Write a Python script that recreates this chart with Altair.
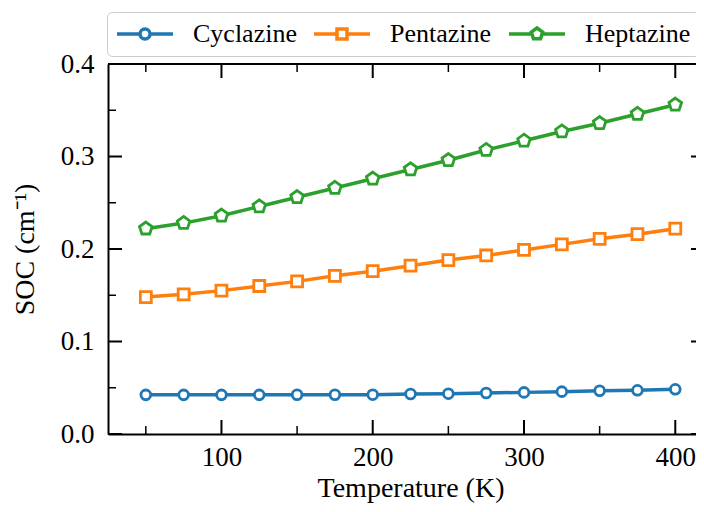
import altair as alt
import pandas as pd

# ---------------- data ----------------
temperatures = [50, 75, 100, 125, 150, 175, 200, 225, 250, 275, 300, 325, 350, 375, 400]
series_names = ["Cyclazine", "Pentazine", "Heptazine"]
cyclazine = [0.0423, 0.0423, 0.0423, 0.0423, 0.0424, 0.0424, 0.0425, 0.0432,
             0.0436, 0.0443, 0.0450, 0.0458, 0.0467, 0.0472, 0.0483]
pentazine = [0.148, 0.151, 0.155, 0.160, 0.165, 0.171, 0.176, 0.182,
             0.188, 0.193, 0.199, 0.205, 0.211, 0.216, 0.222]
heptazine = [0.222, 0.228, 0.236, 0.246, 0.256, 0.266, 0.276, 0.286,
             0.296, 0.307, 0.317, 0.327, 0.336, 0.346, 0.356]
x_major = [100, 200, 300, 400]
x_minor = [50, 150, 250, 350]
y_major = [0.0, 0.1, 0.2, 0.3, 0.4]
y_minor = [0.05, 0.15, 0.25, 0.35]

colors = ["#1f77b4", "#ff7f0e", "#2ca02c"]

rows = []
for name, vals in zip(series_names, [cyclazine, pentazine, heptazine]):
    for t, v in zip(temperatures, vals):
        rows.append({"T": t, "SOC": v, "series": name})
df = pd.DataFrame(rows)

# ---------------- styling ----------------
W, H = 588, 370
FONT = "Liberation Serif"
PENT = "M0,-1L0.951,-0.309L0.588,0.809L-0.588,0.809L-0.951,-0.309Z"
marker_shape = {"Cyclazine": "circle", "Pentazine": "square", "Heptazine": PENT}
marker_size = {"Cyclazine": 95, "Pentazine": 120, "Heptazine": 175}
legend_paths = [
    "M-5.6,0H-1M1,0H5.6M-1,0A1,1 0 1,0 1,0A1,1 0 1,0 -1,0Z",
    "M-5.6,0H-1M1,0H5.6M-1,-1H1V1H-1Z",
    "M-5.6,0H-1.12M1.12,0H5.6M0,-1.2L1.141,-0.371L0.705,0.971L-0.705,0.971L-1.141,-0.371Z",
]

xscale = alt.Scale(domain=[25, 413.7], nice=False, zero=False)
yscale = alt.Scale(domain=[0, 0.4], nice=False, zero=False)
cscale = alt.Scale(domain=series_names, range=colors)

x_enc = alt.X("T:Q", scale=xscale, axis=alt.Axis(
    values=x_major, format="d", title="Temperature (K)", ticks=False, grid=False,
    domainColor="black", domainWidth=2, labelFont=FONT, labelFontSize=27,
    labelColor="black", labelPadding=10, titleFont=FONT, titleFontSize=28,
    titleFontWeight="normal", titleColor="black", titlePadding=4, titleX=302.5))
y_enc = alt.Y("SOC:Q", scale=yscale, axis=alt.Axis(
    values=y_major, format=".1f", title="SOC (cm⁻¹)", ticks=False, grid=False,
    domainColor="black", domainWidth=2, labelFont=FONT, labelFontSize=27,
    labelColor="black", labelPadding=14, titleFont=FONT, titleFontSize=28,
    titleFontWeight="normal", titleColor="black", titlePadding=21))

base = alt.Chart(df)

series_layers = []
for name, col in zip(series_names, colors):
    sub = base.transform_filter(alt.datum.series == name)
    series_layers.append(sub.mark_line(color=col, strokeWidth=3.5).encode(x=x_enc, y=y_enc))
for name, col in zip(series_names, colors):
    sub = base.transform_filter(alt.datum.series == name)
    series_layers.append(sub.mark_point(
        shape=marker_shape[name], filled=False, fill="white", stroke=col, color=col,
        size=marker_size[name], strokeWidth=2.8, opacity=1).encode(x=x_enc, y=y_enc))

leg = alt.Legend(
    title=None, orient="none", legendX=-1, legendY=-52, direction="horizontal",
    labelFont=FONT, labelFontSize=26, labelColor="black", labelOffset=35,
    symbolOffset=16, symbolSize=100, symbolStrokeWidth=3.5, symbolFillColor="white",
    columnPadding=10, padding=9, cornerRadius=5, strokeColor="#cccccc",
    fillColor="white")

legend_layer = base.transform_filter("datum.SOC < -1").mark_point(
    filled=False, fill="white", size=100, strokeWidth=3.5, opacity=1).encode(
    x=x_enc, y=y_enc,
    color=alt.Color("series:N", scale=cscale, legend=leg),
    shape=alt.Shape("series:N", scale=alt.Scale(domain=series_names, range=legend_paths), legend=leg))

# tick marks (drawn inward)
xt_major = pd.DataFrame({"T": x_major})
xt_minor = pd.DataFrame({"T": x_minor})
yt_major = pd.DataFrame({"SOC": y_major})
yt_minor = pd.DataFrame({"SOC": y_minor})

tick_layers = [
    alt.Chart(xt_major).mark_rule(color="black", strokeWidth=2).encode(x=x_enc, y=alt.value(H), y2=alt.value(H - 14)),
    alt.Chart(xt_major).mark_rule(color="black", strokeWidth=2).encode(x=x_enc, y=alt.value(0), y2=alt.value(14)),
    alt.Chart(xt_minor).mark_rule(color="black", strokeWidth=1.5).encode(x=x_enc, y=alt.value(H), y2=alt.value(H - 8)),
    alt.Chart(xt_minor).mark_rule(color="black", strokeWidth=1.5).encode(x=x_enc, y=alt.value(0), y2=alt.value(8)),
    alt.Chart(yt_major).mark_rule(color="black", strokeWidth=2).encode(y=y_enc, x=alt.value(0), x2=alt.value(14)),
    alt.Chart(yt_minor).mark_rule(color="black", strokeWidth=1.5).encode(y=y_enc, x=alt.value(0), x2=alt.value(8)),
    alt.Chart(yt_major).mark_rule(color="black", strokeWidth=2).encode(y=y_enc, x=alt.value(W - 5), x2=alt.value(W)),
    alt.Chart(xt_major).mark_rule(color="black", strokeWidth=2).encode(x=alt.value(0), x2=alt.value(W), y=alt.value(0)),
]

chart = alt.layer(*series_layers, legend_layer, *tick_layers).properties(
    width=W, height=H,
    autosize=alt.AutoSizeParams(type="none"),
    padding={"left": 100, "top": 56, "right": 0, "bottom": 70},
).configure_view(stroke=None).configure_legend(strokeWidth=2).configure(background="white")

chart.save("out.html", embed_options={"renderer": "svg", "actions": False})
